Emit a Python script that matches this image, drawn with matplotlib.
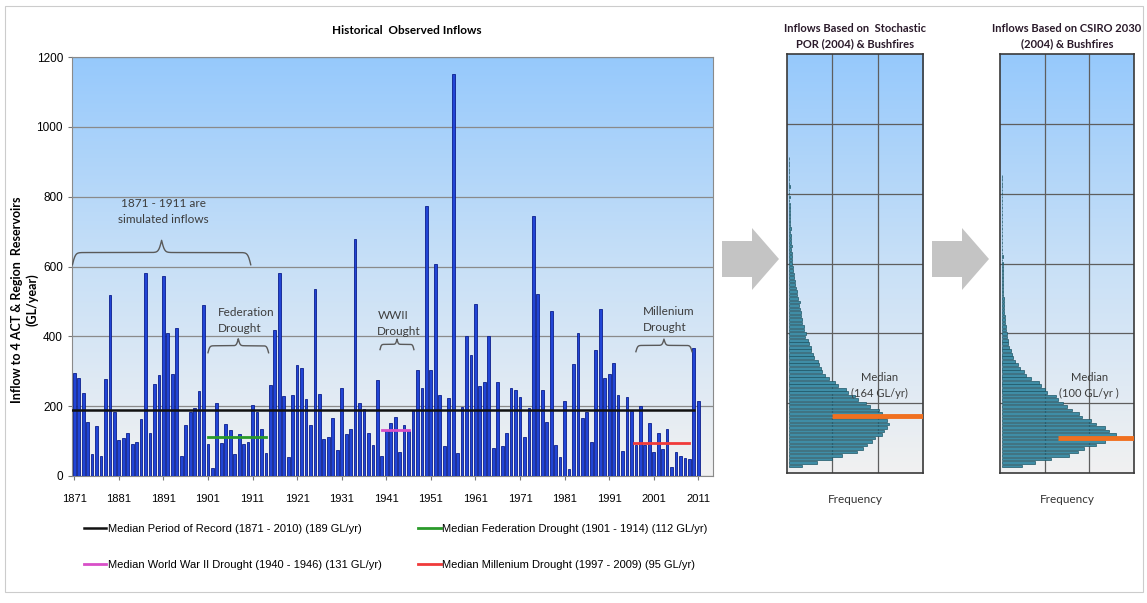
import numpy as np
import matplotlib
matplotlib.use("Agg")
import matplotlib.pyplot as plt
from matplotlib.colors import LinearSegmentedColormap
from matplotlib.patches import Polygon, Rectangle

# ---- data ----
years = np.arange(1871, 2012)
inflows = [295, 281, 239, 154, 62, 142, 58, 278, 517, 182,
           104, 108, 123, 92, 97, 163, 581, 124, 264, 289,
           574, 410, 292, 425, 58, 147, 182, 194, 243, 489,
           92, 22, 208, 95, 149, 132, 62, 119, 91, 97,
           204, 182, 135, 67, 260, 417, 581, 228, 54, 233,
           319, 309, 220, 145, 536, 236, 105, 111, 167, 75,
           252, 120, 134, 680, 209, 192, 123, 88, 276, 58,
           130, 151, 169, 70, 146, 128, 188, 305, 252, 774,
           305, 606, 233, 87, 223, 1152, 67, 199, 400, 347,
           493, 259, 270, 402, 79, 269, 87, 122, 252, 247,
           227, 113, 196, 745, 522, 247, 154, 472, 90, 53,
           216, 21, 322, 410, 166, 184, 96, 362, 477, 281,
           293, 324, 233, 73, 226, 185, 89, 201, 89, 153,
           70, 123, 77, 135, 25, 68, 56, 51, 49, 366, 216]
tick_years = [1871, 1881, 1891, 1901, 1911, 1921, 1931, 1941, 1951, 1961, 1971, 1981, 1991, 2001, 2011]

median_labels = ["Median Period of Record (1871 - 2010) (189 GL/yr)",
                 "Median Federation Drought (1901 - 1914) (112 GL/yr)",
                 "Median World War II Drought (1940 - 1946) (131 GL/yr)",
                 "Median Millenium Drought (1997 - 2009) (95 GL/yr)"]
median_values = [189, 112, 131, 95]
median_start = [1870.5, 1901, 1940, 1996.5]
median_end = [2010, 1914, 1946, 2009]
median_colors = ["#111111", "#2a9a2a", "#d84fc8", "#f03a3a"]

# stochastic POR histogram (bin centre GL/yr, relative frequency)
por_bins = np.arange(20, 910, 10)
por_freq = [0.29, 0.63, 0.95, 1.18, 1.50, 1.63, 1.72, 1.84, 1.90, 2.05,
            2.10, 2.17, 2.22, 2.16, 2.18, 2.05, 1.99, 1.78, 1.70, 1.52,
            1.47, 1.30, 1.26, 1.08, 1.02, 0.88, 0.80, 0.74, 0.72, 0.66,
            0.64, 0.55, 0.54, 0.48, 0.50, 0.44, 0.42, 0.36, 0.38, 0.33,
            0.34, 0.29, 0.30, 0.26, 0.27, 0.24, 0.22, 0.25, 0.20, 0.19,
            0.17, 0.16, 0.13, 0.14, 0.11, 0.12, 0.09, 0.10, 0.07, 0.08,
            0.06, 0.07, 0.05, 0.06, 0.04, 0.05, 0.04, 0.03, 0.04, 0.03,
            0.03, 0.02, 0.03, 0.02, 0.02, 0.02, 0.015, 0.02, 0.015, 0.015,
            0.02, 0.015, 0.015, 0.01, 0.015, 0.01, 0.015, 0.01, 0.01]
por_median = 164

# CSIRO 2030 histogram
csiro_bins = np.arange(20, 860, 10)
csiro_freq = [0.45, 0.75, 1.10, 1.50, 1.70, 1.85, 2.10, 2.30, 2.50, 2.55,
              2.40, 2.30, 2.12, 2.00, 1.80, 1.72, 1.58, 1.45, 1.38, 1.25,
              1.22, 1.02, 0.97, 0.88, 0.84, 0.66, 0.55, 0.50, 0.40, 0.36,
              0.30, 0.25, 0.22, 0.20, 0.17, 0.15, 0.13, 0.12, 0.11, 0.10,
              0.09, 0.08, 0.07, 0.07, 0.06, 0.05, 0.05, 0.04, 0.04, 0.03,
              0.03, 0.03, 0.025, 0.03, 0.02, 0.025, 0.02, 0.02, 0.02, 0.015,
              0.02, 0.015, 0.015, 0.015, 0.01, 0.015, 0.01, 0.01, 0.01, 0.01,
              0.01, 0.01, 0.01, 0.01, 0.01, 0.01, 0.01, 0.01, 0.01, 0.01,
              0.01, 0.01, 0.01, 0.01]
csiro_median = 100

# ---- figure ----
W, H = 1147, 603
fig = plt.figure(figsize=(W / 100, H / 100), dpi=100)

def box(x0, y0, x1, y1):
    return [x0 / W, 1 - y1 / H, (x1 - x0) / W, (y1 - y0) / H]

bg = LinearSegmentedColormap.from_list("bg", ["#f1f1f1", "#c8e0f7", "#96c9fc"])
grad = np.linspace(0, 1, 256).reshape(-1, 1)
narrow = ["Liberation Sans", "DejaVu Sans"]
calib = ["Lato", "DejaVu Sans"]

def brace(ax, x0, x1, yend, h, beta):
    x = np.linspace(x0, x1, 401)
    xh = x[:201]
    yh = 1 / (1 + np.exp(-beta * (xh - xh[0]))) + 1 / (1 + np.exp(-beta * (xh - xh[-1])))
    y = np.concatenate((yh, yh[-2::-1]))
    ax.plot(x, yend + (y - 0.5) * 2 * h, color="#5a5a5a", lw=1.0, zorder=4)

# main chart
ax = fig.add_axes(box(72, 57, 713, 476))
ax.imshow(grad, extent=[1870.5, 2014.3, 0, 1200], origin="lower", aspect="auto", cmap=bg, zorder=0)
ax.bar(years, inflows, width=0.62, color="#2145d6", edgecolor="#0c1f8c", linewidth=0.6, zorder=3)
ax.set_xlim(1870.5, 2014.3)
ax.set_ylim(0, 1200)
ax.set_yticks(range(0, 1201, 200))
ax.set_xticks(tick_years)
ax.xaxis.set_tick_params(length=3, color="#777777", pad=10)
ax.yaxis.set_tick_params(length=3, color="#777777")
ax.set_xticklabels([str(y) for y in tick_years], family=narrow, fontsize=8)
ax.set_yticklabels([str(v) for v in range(0, 1201, 200)], family=narrow, fontsize=8.5)
ax.grid(axis="y", color="#8a8a8a", lw=0.9, zorder=1)
for s in ax.spines.values():
    s.set_color("#8a8a8a")

lines = []
for lab, v, a, b, c in zip(median_labels, median_values, median_start, median_end, median_colors):
    ln, = ax.plot([a, b], [v, v], color=c, lw=2 if c != "#111111" else 1.8, label=lab, zorder=4)
    lines.append(ln)

brace(ax, 1870.6, 1910.6, 605, 35, 3.0)
brace(ax, 1901.0, 1914.6, 353, 20, 5.0)
brace(ax, 1939.6, 1947.2, 362, 15, 7.0)
brace(ax, 1997.0, 2009.6, 356, 18, 5.0)
tstyle = dict(fontsize=8.5, color="#3c3c3c", family=calib, zorder=5, linespacing=1.5)
ax.text(1891, 758, "1871 - 1911 are\nsimulated inflows", ha="center", va="center", **tstyle)
ax.text(1903.3, 445, "Federation\nDrought", ha="left", va="center", **tstyle)
ax.text(1939.0, 437, "WWII\nDrought", ha="left", va="center", **tstyle)
ax.text(1998.6, 448, "Millenium\nDrought", ha="left", va="center", **tstyle)

fig.legend(handles=[lines[0], lines[2], lines[1], lines[3]], ncol=2, loc="upper left",
           bbox_to_anchor=(84 / W, 1 - 524 / H), frameon=False, prop={"family": narrow, "size": 8.0},
           handlelength=2.0, handletextpad=0.15, columnspacing=3.3, labelspacing=2.3,
           borderpad=0, borderaxespad=0)

fig.text(407 / W, 1 - 30 / H, "Historical  Observed Inflows", ha="center", va="center",
         fontsize=8.5, fontweight="bold", family=calib)
fig.text(25 / W, 1 - 300 / H, "Inflow to 4 ACT & Region  Reservoirs\n(GL/year)", rotation=90,
         ha="center", va="center", fontsize=9, fontweight="bold", family=calib, linespacing=1.3)

# histogram panels
panels = [
    (box(787, 54, 923, 473), por_bins, por_freq, por_median, 1.0,
     "Inflows Based on  Stochastic\nPOR (2004) & Bushfires", "Median\n(164 GL/yr)", 2.05),
    (box(1000, 54, 1134, 473), csiro_bins, csiro_freq, csiro_median, 1.3,
     "Inflows Based on CSIRO 2030\n(2004) & Bushfires", "Median\n(100 GL/yr )", 2.0),
]
for pos, bins, freq, med, mstart, title, mtext, mx in panels:
    hx = fig.add_axes(pos)
    hx.imshow(grad, extent=[0, 3, 0, 1200], origin="lower", aspect="auto", cmap=bg, zorder=0)
    hx.barh(bins, freq, height=7.5, left=0.04, color="#3f8da6", edgecolor="#1d5565", linewidth=0.5, zorder=3)
    hx.plot([mstart, 3], [med, med], color="#f07020", lw=3.5, zorder=4, solid_capstyle="butt")
    hx.text(mx, 250, mtext, ha="center", va="center", fontsize=8, color="#3c3c3c", family=calib,
            linespacing=1.5, zorder=5)
    hx.set_xlim(0, 3)
    hx.set_ylim(0, 1200)
    hx.set_xticks([1, 2])
    hx.set_yticks([200, 400, 600, 800, 1000])
    hx.tick_params(left=False, bottom=False, labelleft=False, labelbottom=False)
    hx.grid(True, color="#5e5e5e", lw=0.9, zorder=1)
    for s in hx.spines.values():
        s.set_color("#3a3a3a")
        s.set_linewidth(1.2)
    hx.set_title(title, fontsize=8, fontweight="bold", family=calib, color="#2a1a2a", pad=5, linespacing=1.4)
    hx.set_xlabel("Frequency", fontsize=8.5, family=calib, color="#333333", labelpad=15)

# grey block arrows
for x0 in (722, 932):
    pts = [(x0, 241), (x0 + 30, 241), (x0 + 30, 228), (x0 + 57, 259),
           (x0 + 30, 290), (x0 + 30, 277), (x0, 277)]
    fig.patches.append(Polygon([(p[0] / W, 1 - p[1] / H) for p in pts], closed=True,
                               transform=fig.transFigure, facecolor="#c4c4c4", edgecolor="none"))

fig.patches.append(Rectangle((5 / W, 1 - 592 / H), 1138 / W, 586 / H, transform=fig.transFigure,
                             fill=False, edgecolor="#cccccc", lw=0.8))

fig.savefig("out.png", dpi=100, facecolor="white")
